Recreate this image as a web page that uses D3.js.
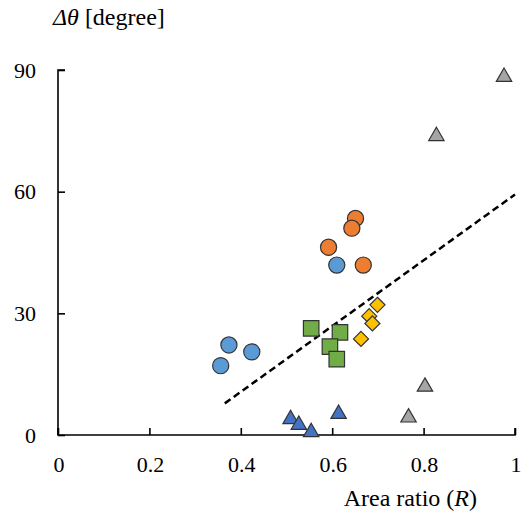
<!DOCTYPE html>
<html>
<head>
<meta charset="utf-8">
<script src="https://cdn.jsdelivr.net/npm/d3@7"></script>
<style>
  body { margin: 0; background: #fff; }
</style>
</head>
<body>
<div id="chart"></div>
<script>
// data: area ratio R and delta theta [degree]
var orangeX = [0.651, 0.643, 0.592, 0.668];
var orangeY = [53.4, 51.0, 46.3, 41.9];
var lightBlueX = [0.610, 0.374, 0.424, 0.356];
var lightBlueY = [41.9, 22.2, 20.5, 17.1];
var greenX = [0.554, 0.617, 0.595, 0.610];
var greenY = [26.3, 25.3, 21.8, 18.7];
var yellowX = [0.699, 0.681, 0.688, 0.663];
var yellowY = [32.1, 29.3, 27.5, 23.7];
var blueTriX = [0.509, 0.527, 0.554, 0.614];
var blueTriY = [3.9, 2.5, 0.7, 5.2];
var greyTriX = [0.976, 0.828, 0.803, 0.767];
var greyTriY = [88.3, 73.7, 11.9, 4.3];
// fitted trend line end points
var fitX = [0.365, 1.0];
var fitY = [7.8, 59.3];

var xTicks = [0, 0.2, 0.4, 0.6, 0.8, 1];
var xTickLabels = ["0", "0.2", "0.4", "0.6", "0.8", "1"];
var yTicks = [0, 30, 60, 90];

var serif = "'Liberation Serif'";

var width = 526, height = 514;
var svg = d3.select("#chart").append("svg")
    .attr("width", width)
    .attr("height", height);

var x = d3.scaleLinear().domain([0, 1]).range([58, 515]);
var y = d3.scaleLinear().domain([0, 90]).range([435, 70]);

// axes, ticks pointing inward
var xAxis = svg.append("g")
    .attr("transform", "translate(0," + y(0) + ")")
    .call(d3.axisTop(x).tickValues(xTicks).tickSize(7).tickFormat(""));
xAxis.select(".domain").attr("d", "M" + x(0) + ",-7V0H" + x(1) + "V-7");
var yAxis = svg.append("g")
    .attr("transform", "translate(" + x(0) + ",0)")
    .call(d3.axisRight(y).tickValues(yTicks).tickSize(7).tickFormat(""));
yAxis.select(".domain").attr("d", "M7," + y(90) + "H0V" + y(0));
svg.selectAll(".domain, .tick line").attr("stroke", "#000").attr("stroke-width", 1.6);

svg.selectAll(".xlab").data(xTicks).enter().append("text")
    .attr("x", function(d) { return x(d) + 1; })
    .attr("y", 472)
    .attr("text-anchor", "middle")
    .attr("font-family", serif)
    .attr("font-size", 22)
    .text(function(d, i) { return xTickLabels[i]; });

svg.selectAll(".ylab").data(yTicks).enter().append("text")
    .attr("x", 36)
    .attr("y", function(d) { return y(d) + 7.5; })
    .attr("text-anchor", "end")
    .attr("font-family", serif)
    .attr("font-size", 22)
    .text(function(d) { return d; });

// axis titles
var yt = svg.append("text").attr("x", 53).attr("y", 25)
    .attr("font-family", serif).attr("font-size", 24);
yt.append("tspan").attr("font-style", "italic").text("Δθ");
yt.append("tspan").text(" [degree]");
var xt = svg.append("text").attr("x", 477).attr("y", 506).attr("text-anchor", "end")
    .attr("font-family", serif).attr("font-size", 24);
xt.append("tspan").text("Area ratio (");
xt.append("tspan").attr("font-style", "italic").text("R");
xt.append("tspan").text(")");

// trend line
svg.append("line")
    .attr("x1", x(fitX[0])).attr("y1", y(fitY[0]))
    .attr("x2", x(fitX[1])).attr("y2", y(fitY[1]))
    .attr("stroke", "#000")
    .attr("stroke-width", 2.5)
    .attr("stroke-dasharray", "7,4");

function zip(xs, ys) { return xs.map(function(v, i) { return [v, ys[i]]; }); }

var groups = [
  {pts: zip(lightBlueX, lightBlueY), color: "#5B9BD5", sym: d3.symbolCircle, size: 205},
  {pts: zip(orangeX, orangeY), color: "#ED7D31", sym: d3.symbolCircle, size: 205},
  {pts: zip(greenX, greenY), color: "#70AD47", sym: d3.symbolSquare, size: 240},
  {pts: zip(yellowX, yellowY), color: "#FFC000", sym: d3.symbolDiamond2, size: 145},
  {pts: zip(blueTriX, blueTriY), color: "#4472C4", sym: d3.symbolTriangle2, size: 170},
  {pts: zip(greyTriX, greyTriY), color: "#A5A5A5", sym: d3.symbolTriangle2, size: 170}
];

groups.forEach(function(g) {
  svg.append("g").selectAll("path")
    .data(g.pts)
    .enter().append("path")
    .attr("transform", function(d) { return "translate(" + x(d[0]) + "," + y(d[1]) + ")"; })
    .attr("d", d3.symbol().type(g.sym).size(g.size))
    .attr("fill", g.color)
    .attr("stroke", "#333")
    .attr("stroke-width", 1.2);
});
</script>
</body>
</html>
